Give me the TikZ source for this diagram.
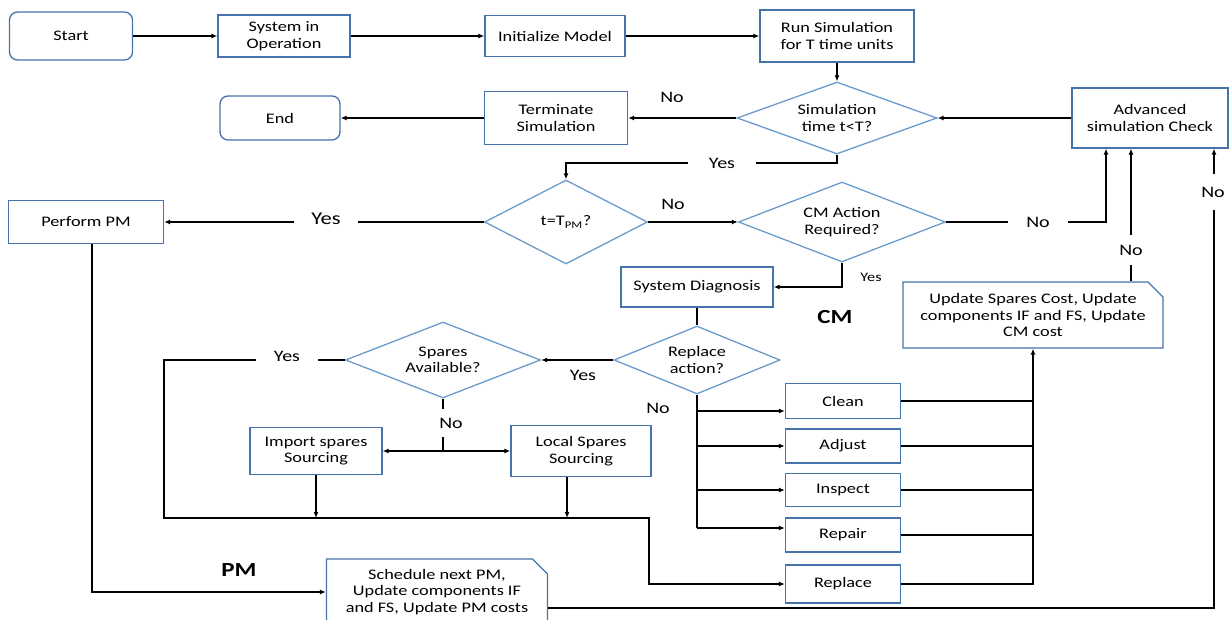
\documentclass[tikz,border=0pt]{standalone}
\usepackage{fontspec}
\setmainfont{Carlito}[FakeStretch=1.25]
\usetikzlibrary{shapes.geometric,shapes.misc,arrows.meta}

\definecolor{cajaazul}{RGB}{70,115,170}
\definecolor{rombazul}{RGB}{105,155,205}

\tikzset{
  caja/.style={draw=cajaazul, line width=1.3pt, align=center, inner sep=2pt,
    font=\fontsize{14.6}{16.4}\selectfont},
  inicio/.style={caja, rounded corners=8pt},
  rombo/.style={diamond, draw=rombazul, line width=1.3pt, align=center,
    inner sep=0pt, font=\fontsize{14.6}{16.4}\selectfont},
  nota/.style={caja, chamfered rectangle, chamfered rectangle corners=north east,
    chamfered rectangle xsep=9pt, chamfered rectangle ysep=6pt},
  etiq/.style={inner sep=0pt, font=\fontsize{16}{18}\selectfont},
  linea/.style={line width=1.2pt},
  flecha/.style={linea, -{Latex[length=6pt,width=5pt]}}
}

\begin{document}
\begin{tikzpicture}[x=1pt,y=-1pt]

\useasboundingbox (0,0) rectangle (1229,620);

% fila de arriba
\node[inicio, minimum width=123pt, minimum height=48pt] (start) at (71,36) {Start};
\node[caja, minimum width=132pt, minimum height=42pt] (sysop) at (284,36) {System in\\Operation};
\node[caja, minimum width=140pt, minimum height=41pt] (init) at (555,36) {Initialize Model};
\node[caja, minimum width=154pt, minimum height=52pt] (run) at (837,36) {Run Simulation\\for T time units};

\node[rombo, aspect=2.78, minimum width=200pt, minimum height=72pt] (simt) at (837,118) {Simulation\\time t<T?};
\node[caja, minimum width=156pt, minimum height=60pt] (adv) at (1150,118) {Advanced\\simulation Check};
\node[caja, minimum width=143pt, minimum height=53pt] (term) at (556,118) {Terminate\\Simulation};
\node[inicio, minimum width=120pt, minimum height=44pt] (end) at (280,118) {End};

% PM / CM
\node[rombo, aspect=1.94, minimum width=163pt, minimum height=84pt] (tpm) at (566,222) {t=T\textsubscript{PM}?};
\node[caja, minimum width=155pt, minimum height=43pt] (pm) at (86,222) {Perform PM};
\node[rombo, aspect=2.59, minimum width=207pt, minimum height=80pt] (cma) at (842,222) {CM Action\\Required?};
\node[caja, minimum width=152pt, minimum height=40pt] (diag) at (697,287) {System Diagnosis};
\node[nota, minimum width=260pt, minimum height=66pt] (upcm) at (1033,315) {Update Spares Cost, Update\\components IF and FS, Update\\CM cost};

\node[rombo, aspect=2.44, minimum width=166pt, minimum height=68pt] (repl) at (697,360) {Replace\\action?};
\node[rombo, aspect=2.57, minimum width=195pt, minimum height=76pt] (spares) at (443,360) {Spares\\Available?};
\node[caja, minimum width=132pt, minimum height=47pt] (import) at (316,451) {Import spares\\Sourcing};
\node[caja, minimum width=140pt, minimum height=51pt] (local) at (581,451) {Local Spares\\Sourcing};

% acciones
\node[caja, minimum width=115pt, minimum height=35pt] (clean) at (843,401) {Clean};
\node[caja, minimum width=115pt, minimum height=34pt] (adjust) at (843,446) {Adjust};
\node[caja, minimum width=115pt, minimum height=33pt] (inspect) at (843,490) {Inspect};
\node[caja, minimum width=115pt, minimum height=34pt] (repair) at (843,535) {Repair};
\node[caja, minimum width=115pt, minimum height=38pt] (replace) at (843,584) {Replace};

\node[nota, minimum width=221pt, minimum height=66pt] (sched) at (437,592) {Schedule next PM,\\Update components IF\\and FS, Update PM costs};

\node[font=\fontsize{20}{22}\selectfont\bfseries] (cmlbl) at (835,317) {CM};
\node[font=\fontsize{20}{22}\selectfont\bfseries] (pmlbl) at (239,570) {PM};

% etiquetas
\node[etiq] (no1) at (672,97) {No};
\node[etiq, inner xsep=21pt] (yes1) at (722,163) {Yes};
\node[etiq, inner xsep=17pt, font=\fontsize{18}{20}\selectfont] (yes2) at (326,219) {Yes};
\node[etiq] (no2) at (673,204) {No};
\node[etiq, inner xsep=18pt] (no3) at (1038,222) {No};
\node[etiq, font=\fontsize{13}{15}\selectfont] (yes3) at (871,277) {Yes};
\node[etiq, inner ysep=10pt] (no4) at (1131,250) {No};
\node[etiq, inner ysep=13pt] (no5) at (1213,192) {No};
\node[etiq] (yes4) at (583,375) {Yes};
\node[etiq, inner xsep=18pt] (yes5) at (287,356) {Yes};
\node[etiq, inner ysep=9pt] (no6) at (451,423) {No};
\node[etiq] (no7) at (658,408) {No};

% flujo principal
\draw[flecha] (start) -- (sysop);
\draw[flecha] (sysop) -- (init);
\draw[flecha] (init) -- (run);
\draw[flecha] (run) -- (simt);
\draw[flecha] (adv) -- (simt);
\draw[flecha] (simt) -- (term);
\draw[flecha] (term) -- (end);

\draw[linea] (simt.south) |- (yes1.east);
\draw[flecha] (yes1.west) -| (tpm.north);
\draw[linea] (tpm.west) -- (tpm.west -| yes2.east);
\draw[flecha] (pm.east -| yes2.west) -- (pm.east);
\draw[flecha] (tpm) -- (cma);

% vuelta al chequeo
\coordinate (a1) at ([xshift=-44pt]adv.south);
\coordinate (a2) at ([xshift=-19pt]adv.south);
\coordinate (a3) at ([xshift=64pt]adv.south);
\draw[linea] (cma.east) -- (no3.west);
\draw[flecha] (no3.east) -| (a1);
\coordinate (u1) at (a2 |- upcm.north);
\draw[linea] (u1) -- (u1 |- no4.south);
\draw[flecha] (u1 |- no4.north) -- (a2);
\coordinate (s1) at ([yshift=-16pt]sched.east);
\draw[linea] (s1) -| (a3 |- no5.south);
\draw[flecha] (a3 |- no5.north) -- (a3);

% CM
\draw[flecha] (cma.south) |- (diag.east);
\draw[linea] (diag.south) -- (repl.north);
\draw[flecha] (repl.west) -- (spares.east);

\coordinate (c1) at (164,518);
\coordinate (c2) at (649,518);
\draw[linea] (spares.west) -- (yes5.east |- spares.west);
\draw[flecha] (yes5.west |- spares.west) -| (c1) -- (c2) |- (replace.west);

\draw[linea] (spares.south) -- (spares.south |- no6.north);
\coordinate (split) at (spares.south |- import.east);
\draw[linea] (spares.south |- no6.south) -- (split);
\draw[flecha] (split) -- (import.east);
\draw[flecha] (split) -- (local.west);
\draw[flecha] (import.south) -- (import.south |- c1);
\coordinate (l1) at ([xshift=-14pt]local.south);
\draw[flecha] (l1) -- (l1 |- c1);

% acciones
\coordinate (pclean) at ([yshift=-10pt]clean.west);
\coordinate (padjust) at (adjust.west);
\coordinate (pinspect) at (inspect.west);
\coordinate (prepair) at ([yshift=7pt]repair.west);
\draw[linea] (repl.south) -- (repl.south |- prepair);
\foreach \n in {clean,adjust,inspect,repair}
  \draw[flecha] (repl.south |- p\n) -- (p\n);
\foreach \n in {clean,adjust,inspect,repair}
  \draw[linea] (\n.east) -- (\n.east -| upcm.south);
\draw[flecha] (replace.east) -| (upcm.south);

% PM
\draw[flecha] ([xshift=6pt]pm.south) |- (sched.west);

\end{tikzpicture}
\end{document}
